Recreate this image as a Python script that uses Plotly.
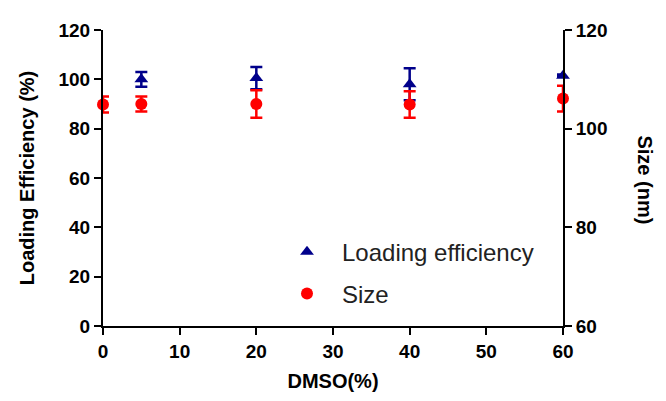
import plotly.graph_objects as go

dmso_le = [5, 20, 40, 60]
loading_eff = [100, 100.5, 98, 101.5]
loading_err = [3.0, 4.5, 6.5, 0.5]

dmso_size = [0, 5, 20, 40, 60]
size_nm = [104.9, 105.0, 105.0, 104.9, 106.1]
size_err = [1.6, 1.5, 2.8, 2.7, 2.6]

x_ticks = [0, 10, 20, 30, 40, 50, 60]
left_ticks = [0, 20, 40, 60, 80, 100, 120]
right_ticks = [60, 80, 100, 120]

BLUE = "#00008B"
RED = "#FF0000"
FONT = "Liberation Sans, Arial, sans-serif"

# page body has an 8px default margin; compensate so plot area lands at x 103-563, y 21-326
OFF = 8
L, R, T, B = 103 - OFF, 666 - 563 + OFF, 21 - OFF, 401 - 326 + OFF
W = 666 - L - R
H = 401 - T - B

fig = go.Figure()
fig.add_trace(go.Scatter(
    x=dmso_le, y=loading_eff, mode="markers", name="Loading efficiency",
    marker=dict(symbol="triangle-up", size=12, color=BLUE),
    error_y=dict(type="data", array=loading_err, color=BLUE, thickness=2.5, width=6),
    cliponaxis=False, legend="legend",
))
fig.add_trace(go.Scatter(
    x=dmso_size, y=size_nm, mode="markers", name="Size", yaxis="y2",
    marker=dict(symbol="circle", size=12, color=RED),
    error_y=dict(type="data", array=size_err, color=RED, thickness=2.5, width=6),
    cliponaxis=False, legend="legend2",
))

tickfont = dict(family=FONT, size=19, color="black", weight="bold")
axcommon = dict(showline=True, linecolor="black", linewidth=2, ticks="outside",
                ticklen=7, tickwidth=2, tickcolor="black", showgrid=False,
                zeroline=False, tickfont=tickfont)
titlefont = dict(family=FONT, size=20, color="black", weight="bold")
legfont = dict(family=FONT, size=24, color="#222")

leg_x = (272 - 103) / W

fig.update_layout(
    width=666, height=401, showlegend=True,
    margin=dict(l=L, r=R, t=T, b=B),
    plot_bgcolor="white", paper_bgcolor="white",
    xaxis=dict(range=[0, 60], tickvals=x_ticks, **axcommon,
               title=dict(text="DMSO(%)", font=titlefont, standoff=13)),
    yaxis=dict(range=[0, 120], tickvals=left_ticks, **axcommon,
               title=dict(text="Loading Efficiency (%)", font=titlefont, standoff=18)),
    yaxis2=dict(range=[60, 120], tickvals=right_ticks, overlaying="y", side="right", **axcommon),
    legend=dict(x=leg_x, y=(326 - 250) / H, xanchor="left", yanchor="middle",
                font=legfont, bgcolor="rgba(0,0,0,0)", itemwidth=60),
    legend2=dict(x=leg_x, y=(326 - 293) / H, xanchor="left", yanchor="middle",
                 font=legfont, bgcolor="rgba(0,0,0,0)", itemwidth=60),
    annotations=[dict(text="Size (nm)", textangle=90, x=1 + (645 - 563) / W, y=(326 - 175) / H,
                      xref="paper", yref="paper", xanchor="center", yanchor="middle",
                      showarrow=False, font=titlefont)],
)

fig.write_html("out.html")
